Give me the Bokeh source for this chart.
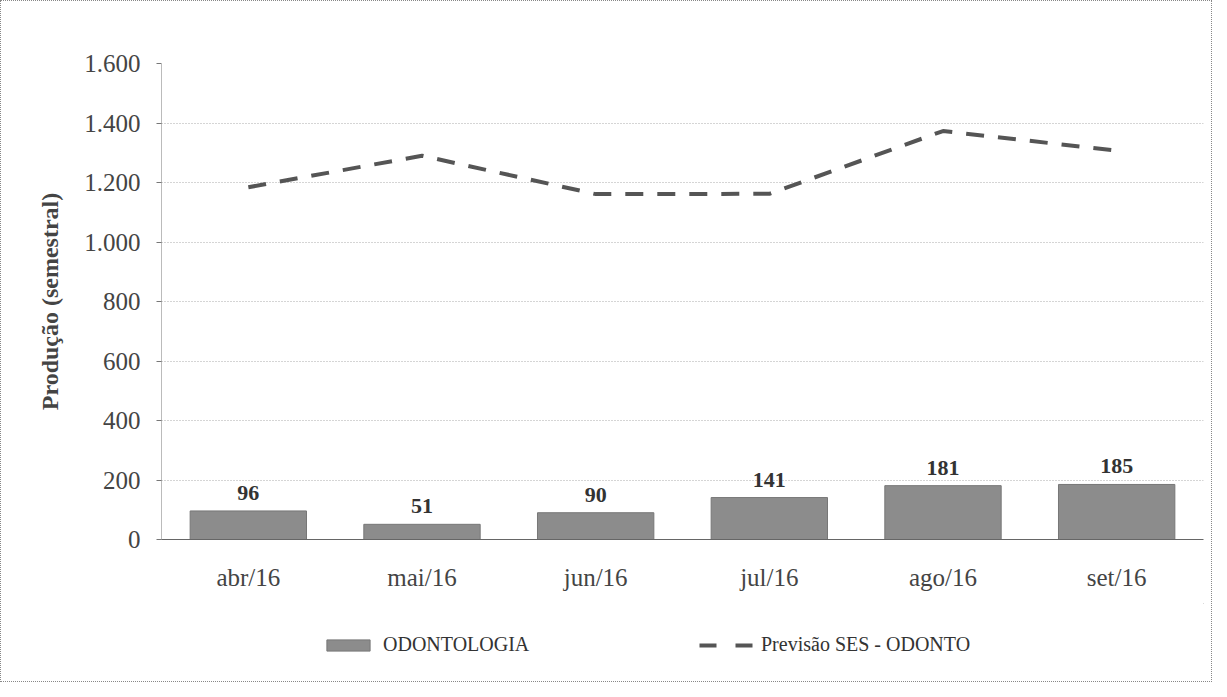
from bokeh.plotting import figure
from bokeh.layouts import column
from bokeh.models import ColumnDataSource, FixedTicker, Legend, LegendItem, LabelSet
from bokeh.core.properties import value
from bokeh.embed import file_html
from bokeh.resources import INLINE

months = ["abr/16", "mai/16", "jun/16", "jul/16", "ago/16", "set/16"]
odontologia = [96, 51, 90, 141, 181, 185]
previsao = [1184, 1290, 1161, 1162, 1373, 1307]
y_ticks = [0, 200, 400, 600, 800, 1000, 1200, 1400, 1600]
y_tick_labels = ["0", "200", "400", "600", "800", "1.000", "1.200", "1.400", "1.600"]
series_names = ["ODONTOLOGIA", "Previsão SES - ODONTO"]

src = ColumnDataSource(dict(m=months, v=odontologia, p=previsao,
                            lbl=[str(v) for v in odontologia]))

FONT = "Liberation Serif"
BAR_FILL = "#8c8c8c"
BAR_LINE = "#777777"
LINE_COLOR = "#555555"
DASH = "18 14"

p = figure(x_range=months, y_range=(0, 1600), width=1210, height=602,
           output_backend="svg", toolbar_location=None,
           min_border_left=160, min_border_right=8, min_border_top=62, min_border_bottom=64)
p.outline_line_color = None

bars = p.vbar(x="m", top="v", width=0.67, source=src, fill_color=BAR_FILL,
              line_color=BAR_LINE, line_width=1)
line = p.line(x="m", y="p", source=src, line_color=LINE_COLOR, line_width=4,
              line_dash=DASH)

labels = LabelSet(x="m", y="v", text="lbl", source=src, text_align="center",
                  text_baseline="bottom", y_offset=11, text_font=value(FONT),
                  text_font_size="22px", text_font_style="bold", text_color="#333333")
p.add_layout(labels)

p.yaxis.ticker = FixedTicker(ticks=y_ticks)
p.yaxis.major_label_overrides = {t: l for t, l in zip(y_ticks, y_tick_labels)}
p.yaxis.axis_label = "Produção (semestral)"
p.yaxis.axis_label_text_font = FONT
p.yaxis.axis_label_text_font_size = "24px"
p.yaxis.axis_label_text_font_style = "bold"
p.yaxis.axis_label_text_color = "#444444"
p.yaxis.axis_label_standoff = 18
p.yaxis.axis_line_color = "#777777"
p.yaxis.axis_line_dash = "1 1"
p.yaxis.major_tick_line_color = "#777777"
p.yaxis.major_tick_out = 5
p.yaxis.major_tick_in = 0
p.yaxis.minor_tick_line_color = None

for ax in (p.xaxis, p.yaxis):
    ax.major_label_text_font = FONT
    ax.major_label_text_font_size = "25px"
    ax.major_label_text_color = "#444444"

p.yaxis.major_label_standoff = 16
p.xaxis.axis_line_color = "#666666"
p.xaxis.major_tick_line_color = None
p.xaxis.major_label_standoff = 18

p.xgrid.grid_line_color = None
p.ygrid.grid_line_color = "#aaaaaa"
p.ygrid.grid_line_dash = "1 2"

# legend strip below the chart (placeholder renderers sit outside its visible range)
lg = figure(width=1210, height=78, output_backend="svg", toolbar_location=None,
            x_axis_type=None, y_axis_type=None, x_range=(0, 1), y_range=(0, 1),
            min_border=0)
lg.outline_line_color = None
lg.grid.visible = False
lb = lg.vbar(x=[5], top=[5], bottom=[4], width=0.5, fill_color=BAR_FILL, line_color=BAR_LINE)
ll = lg.line(x=[5, 6], y=[5, 5], line_color=LINE_COLOR, line_width=4, line_dash="17 19")
legend = Legend(items=[LegendItem(label=series_names[0], renderers=[lb]),
                       LegendItem(label=series_names[1], renderers=[ll])],
                orientation="horizontal", location=(160, 25),
                label_text_font=FONT, label_text_font_size="20px",
                label_text_color="#333333", glyph_width=54, glyph_height=14,
                spacing=166, label_width=150, border_line_color=None, padding=4,
                margin=0, background_fill_alpha=0, label_standoff=8)
lg.add_layout(legend, "center")

layout = column(p, lg, spacing=0)
layout.styles = {"border": "1px dotted #888"}

open("out.html", "w").write(file_html(layout, INLINE))
